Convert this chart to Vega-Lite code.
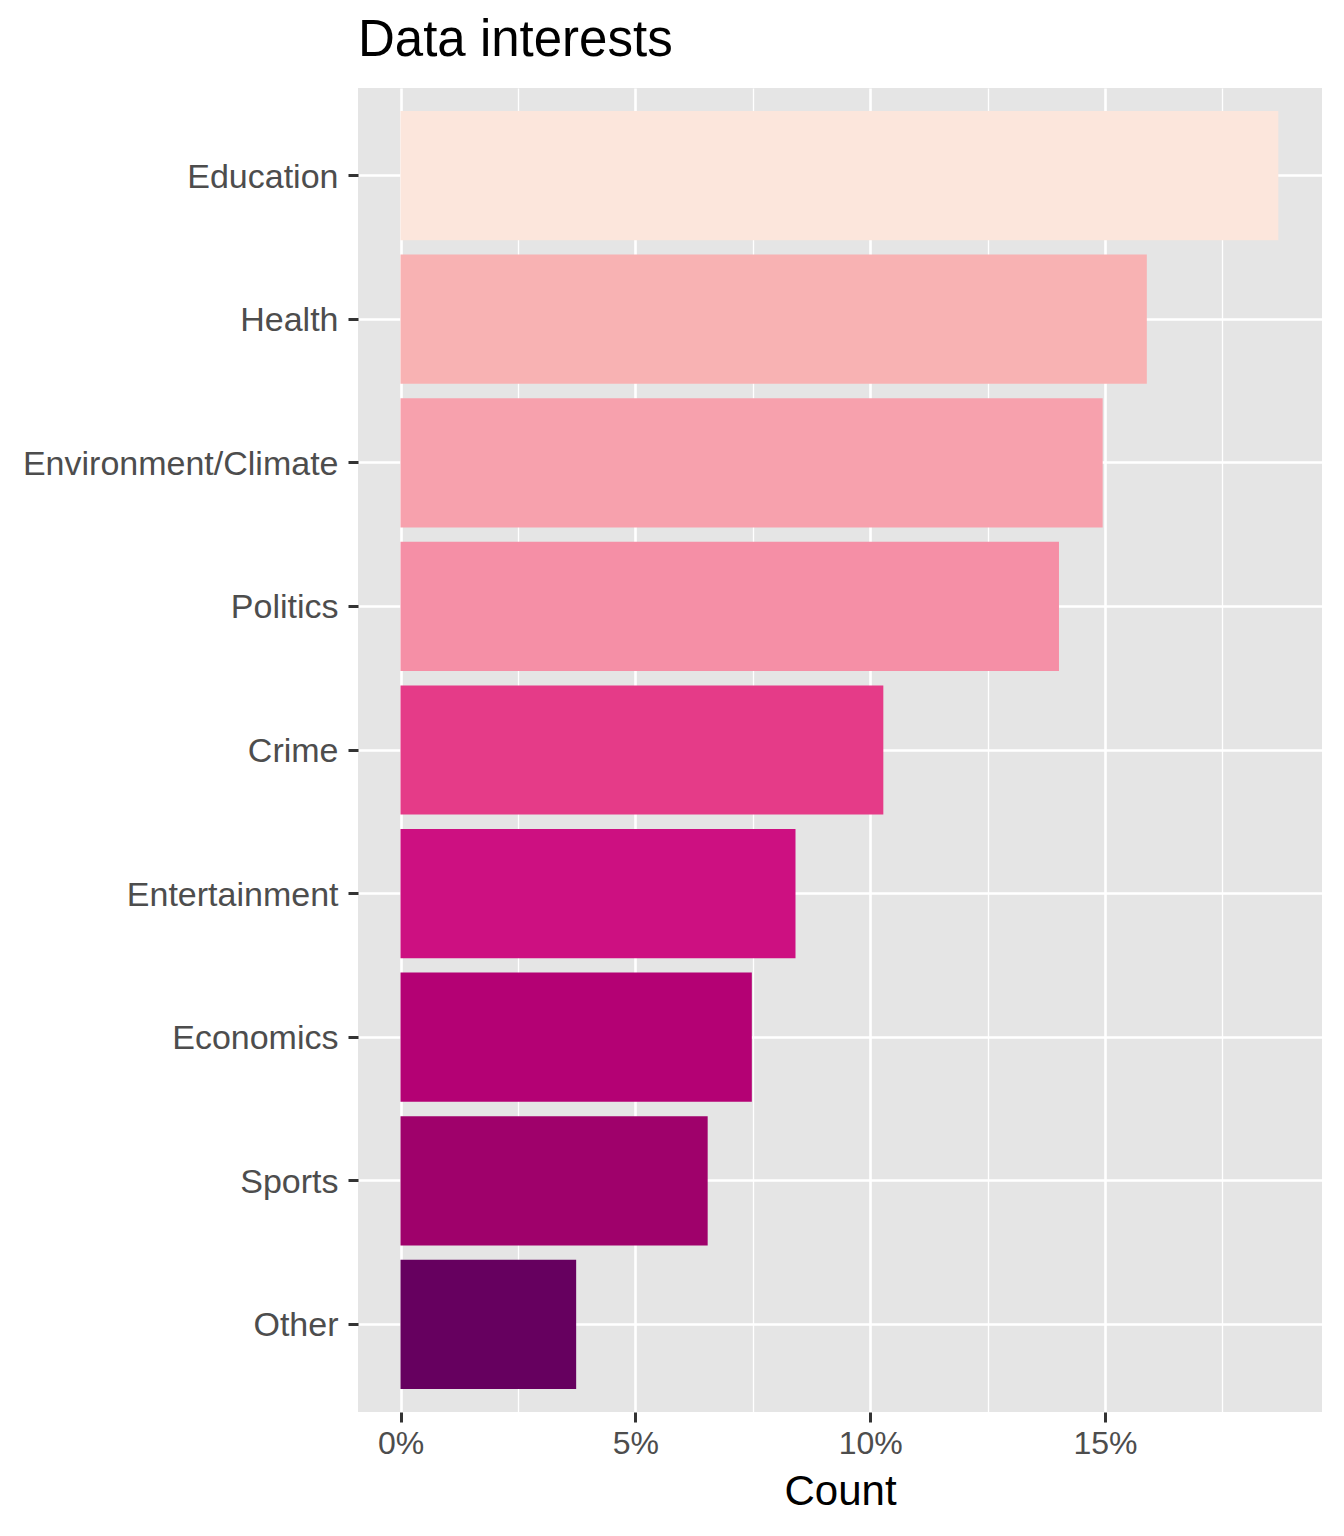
{
  "$schema": "https://vega.github.io/schema/vega-lite/v6.json",
  "autosize": {"type": "none"},
  "padding": {"left": 358, "top": 88, "right": 22, "bottom": 124},
  "width": 964,
  "height": 1324,
  "background": "white",
  "title": {
    "text": "Data interests",
    "anchor": "start",
    "frame": "group",
    "font": "Liberation Sans",
    "fontSize": 51,
    "fontWeight": "normal",
    "color": "#000000",
    "offset": 21
  },
  "data": {
    "values": [
      {"topic": "Education", "share": 0.1869},
      {"topic": "Health", "share": 0.1589},
      {"topic": "Environment/Climate", "share": 0.1495},
      {"topic": "Politics", "share": 0.1402},
      {"topic": "Crime", "share": 0.1028},
      {"topic": "Entertainment", "share": 0.0841},
      {"topic": "Economics", "share": 0.0748},
      {"topic": "Sports", "share": 0.0654},
      {"topic": "Other", "share": 0.0374}
    ]
  },
  "mark": {"type": "bar"},
  "encoding": {
    "y": {
      "field": "topic",
      "type": "nominal",
      "sort": null,
      "scale": {"paddingInner": 0.1, "paddingOuter": 0.16},
      "axis": {
        "title": null,
        "domain": false,
        "grid": true,
        "gridColor": "white",
        "gridWidth": 2.6,
        "bandPosition": 0.5,
        "ticks": true,
        "tickColor": "#333333",
        "tickSize": 10,
        "tickWidth": 3,
        "labelPadding": 10,
        "labelOffset": 2,
        "labelLimit": 400,
        "labelFont": "Liberation Sans",
        "labelFontSize": 34,
        "labelColor": "#4D4D4D"
      }
    },
    "x": {
      "field": "share",
      "type": "quantitative",
      "scale": {"domain": [-0.00905, 0.1962], "nice": false, "zero": false},
      "axis": {
        "title": "Count",
        "titleFont": "Liberation Sans",
        "titleFontSize": 42,
        "titleFontWeight": "normal",
        "titleColor": "#000000",
        "titlePadding": 12,
        "values": [0, 0.025, 0.05, 0.075, 0.1, 0.125, 0.15, 0.175],
        "labelExpr": "round(datum.value * 1000) % 50 == 0 ? format(datum.value, '.0%') : ''",
        "domain": false,
        "grid": true,
        "gridColor": "white",
        "gridWidth": {
          "condition": {"test": "round(datum.value * 1000) % 50 == 0", "value": 2.6},
          "value": 1.3
        },
        "tickColor": "#333333",
        "tickSize": 10,
        "tickWidth": 3,
        "tickOpacity": {
          "condition": {"test": "round(datum.value * 1000) % 50 == 0", "value": 1},
          "value": 0
        },
        "labelPadding": 6,
        "labelFont": "Liberation Sans",
        "labelFontSize": 32,
        "labelColor": "#4D4D4D",
        "labelFlush": false
      }
    },
    "color": {
      "field": "topic",
      "type": "nominal",
      "legend": null,
      "scale": {
        "domain": ["Education", "Health", "Environment/Climate", "Politics", "Crime", "Entertainment", "Economics", "Sports", "Other"],
        "range": ["#FCE6DC", "#F8B2B3", "#F7A1AD", "#F58FA6", "#E53B88", "#CD1081", "#B40174", "#9F016B", "#66005F"]
      }
    }
  },
  "config": {
    "view": {"fill": "#E5E5E5", "stroke": null}
  }
}
